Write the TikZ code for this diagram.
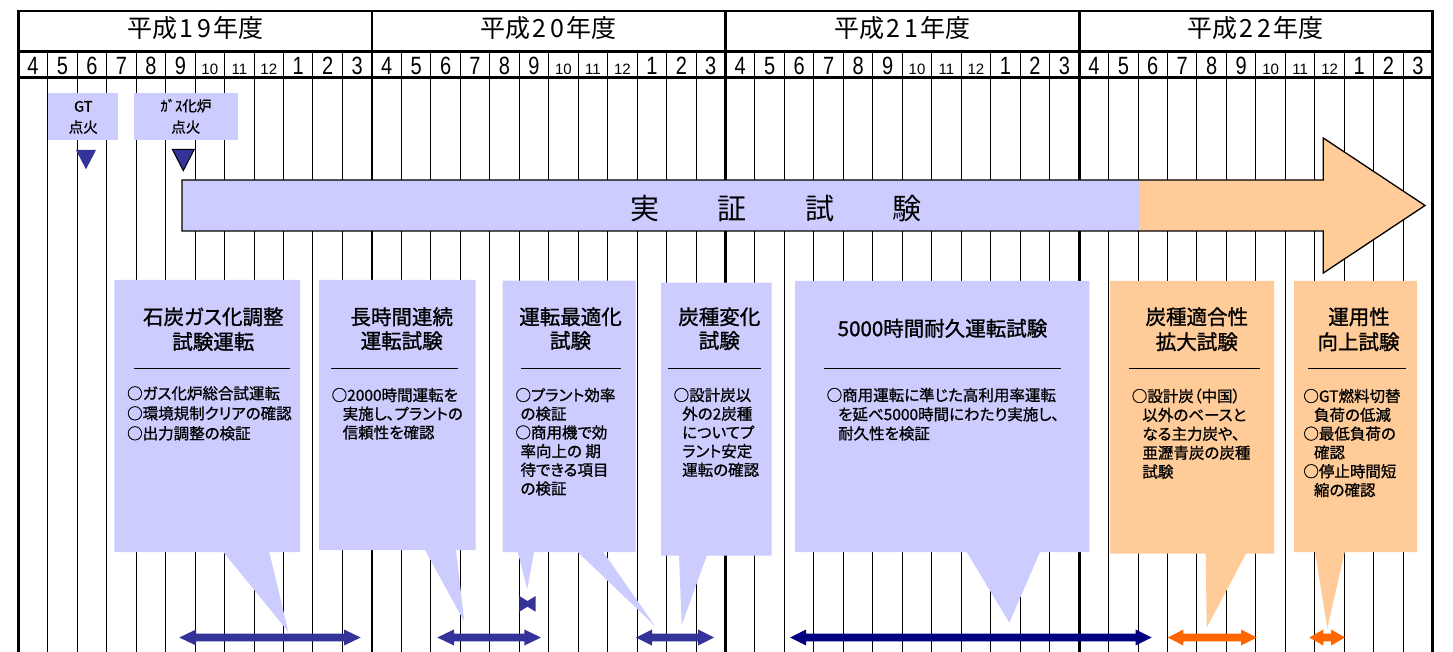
\documentclass[tikz,border=0pt]{standalone}
\usepackage{fontspec}
\setmainfont{Noto Sans CJK JP}[RawFeature=+palt]
\newfontfamily\ttlfont{Noto Sans CJK JP}[RawFeature=+palt,FakeBold=1.2]
\newfontfamily\bodyfont{Noto Sans CJK JP}[RawFeature=+palt,FakeBold=0.9]
\newfontfamily\numfont{Liberation Sans}[FakeStretch=0.8]
\newfontfamily\numfontn{Liberation Sans}
\definecolor{lav}{HTML}{CCCCFF}
\definecolor{orng}{HTML}{FFCC99}
\definecolor{dkblue}{HTML}{333399}
\definecolor{navyc}{HTML}{000080}
\definecolor{redor}{HTML}{FF6600}
\newcommand\dblarrow[5]{%
  \fill[#5] (#1,#3) -- ({#1+#4},{#3-8}) -- ({#1+#4},{#3-3.8}) -- ({#2-#4},{#3-3.8})
    -- ({#2-#4},{#3-8}) -- (#2,#3) -- ({#2-#4},{#3+8}) -- ({#2-#4},{#3+3.8})
    -- ({#1+#4},{#3+3.8}) -- ({#1+#4},{#3+8}) -- cycle;}
\newcommand\bodyblock[6]{% name, x, y0, dy, indent, lines
  \def\I{\hspace{#5pt}}%
  \foreach \bl [count=\k from 0] in {#6} {\node[bodytxt] (#1-\k) at (#2, {#3+#4*\k+5.9}) {\bl};}}
\begin{document}
\begin{tikzpicture}[x=1pt,y=-1pt,
  thinl/.style={line width=1pt,black},
  thickl/.style={line width=2.8pt,black,line cap=rect},
  mon/.style={anchor=base,inner sep=0pt,font=\numfont\fontsize{25}{25}\selectfont},
  monsm/.style={anchor=base,inner sep=0pt,font=\numfontn\fontsize{15}{15}\selectfont},
  yearh/.style={anchor=base,inner sep=0pt,font=\fontsize{25}{25}\selectfont},
  lbl/.style={anchor=base,inner sep=0pt,font=\bodyfont\fontsize{14.5}{14.5}\selectfont},
  ttl/.style={anchor=base,inner sep=0pt,font=\ttlfont\fontsize{20.5}{20.5}\selectfont},
  bodytxt/.style={anchor=base west,inner sep=0pt,font=\bodyfont\fontsize{15.5}{15.5}\selectfont},
  sepl/.style={line width=1.4pt,black},
  big/.style={anchor=base,inner sep=0pt,font=\fontsize{29}{29}\selectfont}]
\useasboundingbox (0,0) rectangle (1453,652);
\fill[white] (0,0) rectangle (1453,652);
\def\xo{18.3}\def\mw{29.467}
% grid
\foreach \i in {1,...,47} \draw[thinl] ({\xo+\mw*\i},51.7) -- ({\xo+\mw*\i},652);
\foreach \i in {0,12,24,36,48} \draw[thickl] ({\xo+\mw*\i},11) -- ({\xo+\mw*\i},652);
\foreach \yy in {11,51.7,77.8} \draw[thickl] (\xo,\yy) -- (1432.7,\yy);
% year headers
\foreach \a/\b [count=\k from 0] in {1/9,2/0,2/1,2/2}
  \node[yearh] (yr\k) at ({\xo+\mw*(12*\k+6)},37.6) {平成\makebox[18pt]{\a}\makebox[18pt]{\b}年度};
% months
\foreach \yy in {0,...,3}{
  \foreach \m [count=\k from 0] in {4,5,6,7,8,9,10,11,12,1,2,3}{
    \ifnum\m>9
      \node[monsm] (m\yy-\k) at ({\xo+\mw*(12*\yy+\k+0.5)},74.5) {\m};
    \else
      \node[mon] (m\yy-\k) at ({\xo+\mw*(12*\yy+\k+0.5)},74.8) {\m};
    \fi}}
% ignition labels
\fill[lav] (47.7,92.7) rectangle (117.7,140);
\fill[lav] (134,92.7) rectangle (237.7,140);
\node[lbl] (gt1) at (83.3,111.7) {GT};
\node[lbl] (gt2) at (83.3,132.5) {点火};
\node[lbl] (gs1) at (186,111.3) {ｶﾞｽ化炉};
\node[lbl] (gs2) at (185.8,132.5) {点火};
\fill[dkblue] (76,150) -- (96,150) -- (86,169.3) -- cycle;
\filldraw[fill=dkblue,draw=black,line width=1pt] (172.3,149.3) -- (194.3,149.3) -- (183.3,170.7) -- cycle;
% big arrow
\fill[orng] (182,180) -- (1323.3,180) -- (1323.3,138) -- (1425,205.5) -- (1323.3,273) -- (1323.3,231) -- (182,231) -- cycle;
\fill[lav] (182,180) rectangle (1139,231);
\draw[line width=1.3pt,line join=miter] (182,180) -- (1323.3,180) -- (1323.3,138) -- (1425,205.5) -- (1323.3,273) -- (1323.3,231) -- (182,231) -- cycle;
\node[big] (jisshou) at (776.2,219.3) {実\hspace{58.5pt}証\hspace{58.5pt}試\hspace{58.5pt}験};
% callouts
\fill[lav] (114.3,280) -- (300,280) -- (300,552) -- (269.3,552) -- (288.3,631.7) -- (223.3,552) -- (114.3,552) -- cycle;
\fill[lav] (319,280) -- (475.7,280) -- (475.7,550) -- (456,550) -- (464.3,621.7) -- (425,550) -- (319,550) -- cycle;
\fill[lav] (502.7,280.7) -- (635.7,280.7) -- (635.7,552) -- (603.3,552) -- (655,626) -- (577.7,552)
  -- (534,552) -- (527.3,589.3) -- (517.7,552) -- (502.7,552) -- cycle;
\fill[lav] (661,282.7) -- (771.7,282.7) -- (771.7,555.7) -- (706.7,555.7) -- (681.7,625) -- (679,555.7) -- (661,555.7) -- cycle;
\fill[lav] (795,281) -- (1089.3,281) -- (1089.3,552) -- (1040,552) -- (1009.3,622.7) -- (966.7,552) -- (795,552) -- cycle;
\fill[orng] (1110,281) -- (1274,281) -- (1274,553.7) -- (1246,553.7) -- (1206.7,627.7) -- (1205.7,553.7) -- (1110,553.7) -- cycle;
\fill[orng] (1294,281) -- (1417,281) -- (1417,552) -- (1344.7,552) -- (1327.3,628.3) -- (1315,552) -- (1294,552) -- cycle;
% titles
\node[ttl] (t1a) at (213.3,324.5) {石炭ガス化調整};
\node[ttl] (t1b) at (213.3,349.3) {試験運転};
\node[ttl] (t2a) at (401.7,324.5) {長時間連続};
\node[ttl] (t2b) at (401.7,348.5) {運転試験};
\node[ttl] (t3a) at (570.5,324.5) {運転最適化};
\node[ttl] (t3b) at (570.5,348.3) {試験};
\node[ttl] (t4a) at (719.3,324.5) {炭種変化};
\node[ttl] (t4b) at (719.3,348.3) {試験};
\node[ttl] (t5a) at (942.5,336.1) {5000時間耐久運転試験};
\node[ttl] (t6a) at (1196.8,324.5) {炭種適合性};
\node[ttl] (t6b) at (1196.8,349.5) {拡大試験};
\node[ttl] (t7a) at (1359,324.5) {運用性};
\node[ttl] (t7b) at (1358.5,349.5) {向上試験};
% separators
\draw[sepl] (134.3,368.3) -- (290,368.3);
\draw[sepl] (331,368.3) -- (457.7,368.3);
\draw[sepl] (520.7,368.3) -- (621,368.3);
\draw[sepl] (668.3,368.3) -- (760.7,368.3);
\draw[sepl] (824,368.3) -- (1061,368.3);
\draw[sepl] (1129,368.3) -- (1260,368.3);
\draw[sepl] (1308,368.3) -- (1406,368.3);
% body texts
\bodyblock{b1}{127}{393.3}{20}{0}{○ガス化炉総合試運転,○環境規制クリアの確認,○出力調整の検証}
\bodyblock{b2}{331.5}{395}{18.7}{11}{○2000時間運転を,\I 実施し、プラントの,\I 信頼性を確認}
\bodyblock{b3}{515.3}{395}{18.7}{5}{○プラント効率,\I の検証,○商用機で効,\I 率向上の 期,\I 待できる項目,\I の検証}
\bodyblock{b4}{673.5}{395}{18.7}{8.5}{○設計炭以,\I 外の2炭種,\I についてプ,\I ラント安定,\I 運転の確認}
\bodyblock{b5}{826.5}{395}{19.2}{11.4}{○商用運転に準じた高利用率運転,\I を延べ5000時間にわたり実施し、,\I 耐久性を検証}
\bodyblock{b6}{1131.6}{396}{18.9}{10.6}{○設計炭（中国）,\I 以外のベースと,\I なる主力炭や、,\I 亜瀝青炭の炭種,\I 試験}
\bodyblock{b7}{1303.2}{396}{18.8}{10.6}{○GT燃料切替,\I 負荷の低減,○最低負荷の,\I 確認,○停止時間短,\I 縮の確認}
% period arrows
\dblarrow{179.3}{360.7}{637.5}{16.7}{dkblue}
\dblarrow{437.3}{541}{637.5}{16.7}{dkblue}
\dblarrow{636}{714}{637.5}{16}{dkblue}
\dblarrow{790}{1151.7}{637.5}{16}{navyc}
\dblarrow{1167.7}{1256.7}{637.5}{15.7}{redor}
\dblarrow{1309.3}{1345}{637.5}{14}{redor}
\fill[dkblue] (519.3,596) -- (527.5,601) -- (535.7,596) -- (535.7,611.7) -- (527.5,606.7) -- (519.3,611.7) -- cycle;
\end{tikzpicture}
\end{document}
